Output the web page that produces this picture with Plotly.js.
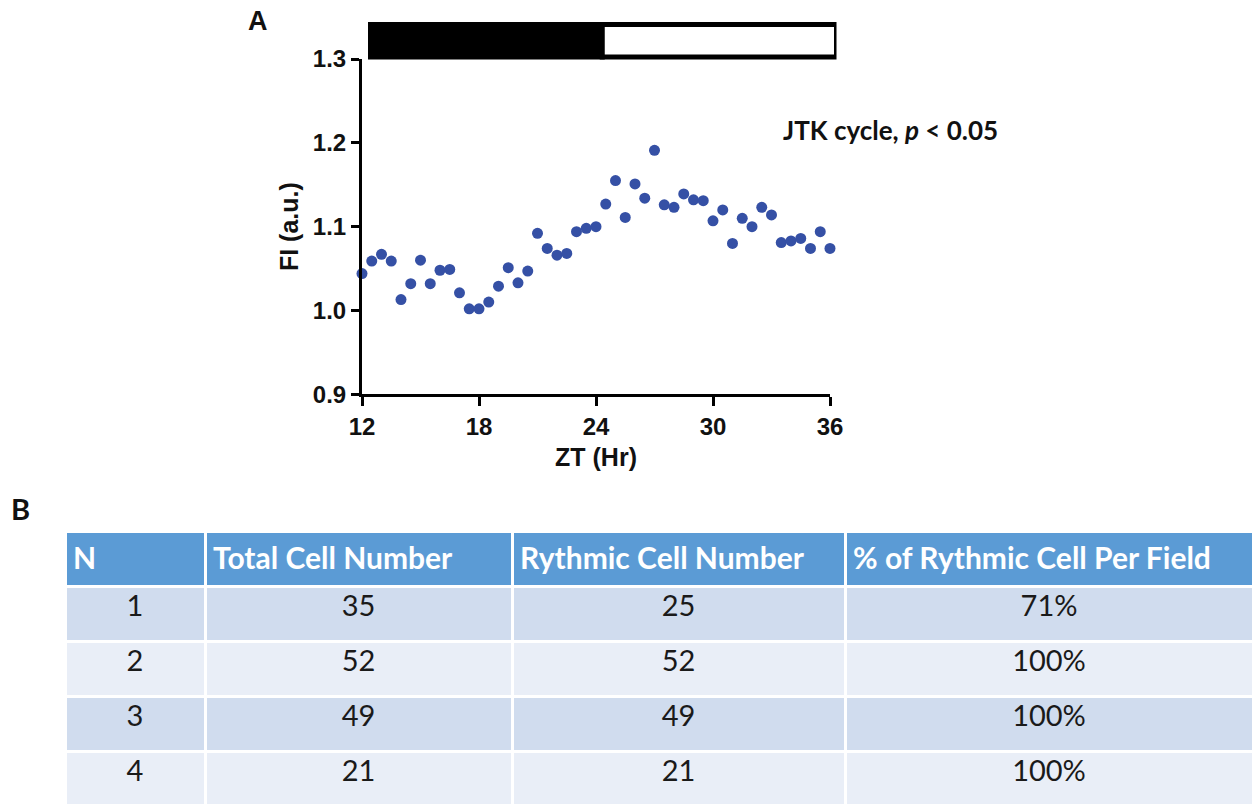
<!DOCTYPE html>
<html><head><meta charset="utf-8">
<script src="https://cdn.plot.ly/plotly-3.0.1.min.js"></script>
<style>html,body{margin:0;padding:0;background:#fff}#chart{width:1253px;height:805px}</style>
</head><body><div id="chart"></div>
<script>
// ---- Panel A data ----
const zt = [12,12.5,13,13.5,14,14.5,15,15.5,16,16.5,17,17.5,18,18.5,19,19.5,20,20.5,21,21.5,22,22.5,23,23.5,24,
            24.5,25,25.5,26,26.5,27,27.5,28,28.5,29,29.5,30,30.5,31,31.5,32,32.5,33,33.5,34,34.5,35,35.5,36];
const fi = [1.044,1.059,1.067,1.059,1.013,1.032,1.060,1.032,1.048,1.049,1.021,1.002,1.002,1.010,1.029,1.051,1.033,1.047,1.092,1.074,1.066,1.068,1.094,1.098,1.100,
            1.127,1.155,1.111,1.151,1.134,1.191,1.126,1.123,1.139,1.132,1.131,1.107,1.120,1.080,1.110,1.100,1.123,1.114,1.081,1.083,1.086,1.074,1.094,1.074];
const xTicks = [12,18,24,30,36];
const phaseStart = [12,24];
const phaseEnd = [24,36];
const phaseFill = ['#000000','#ffffff'];

// ---- Panel B data ----
const tableHeaders = ['N','Total Cell Number','Rythmic Cell Number','% of Rythmic Cell Per Field'];
const colN = ['1','2','3','4'];
const colTotal = ['35','52','49','21'];
const colRhythmic = ['25','52','49','21'];
const colPct = ['71%','100%','100%','100%'];

const W = 1253, H = 805;
const px = v => v / W, py = v => 1 - v / H;

const arial = 'Liberation Sans, Arial, sans-serif';
const cal = 'Lato, Carlito, Calibri, sans-serif';

const rowColors = ['#d0dcee','#e9eef7','#d0dcee','#e9eef7'];

const traces = [
  {type:'scatter', mode:'markers', x: phaseStart, y:[null,null], xaxis:'x2', yaxis:'y', showlegend:false, hoverinfo:'skip'},
  {type:'scatter', mode:'markers', x: zt, y: fi, xaxis:'x', yaxis:'y', cliponaxis:false,
   marker:{size:11, color:'#3550a5'}, hoverinfo:'x+y', showlegend:false},
  {type:'table', domain:{x:[px(65),1], y:[0, py(531)]},
   columnwidth:[140,307,333,408],
   header:{values: tableHeaders.map(h => '<b>'+h+'</b>'), align:'left', height:55,
           fill:{color:'#5b9bd5'}, line:{color:'#ffffff', width:3},
           font:{family:cal, size:30, color:'#ffffff'}},
   cells:{values:[colN,colTotal,colRhythmic,colPct], align:'center', height:55,
          fill:{color:[rowColors,rowColors,rowColors,rowColors]}, line:{color:'#ffffff', width:3},
          font:{family:cal, size:29, color:'#1a1a1a'}}}
];

const shapes = phaseStart.map((s,i) => ({
  type:'rect', xref:'x2', yref:'paper', x0:s, x1:phaseEnd[i], y0:py(57), y1:py(24.5),
  fillcolor:phaseFill[i], line:{color:'#000000', width:5}, layer:'above'
}));

const layout = {
  width:W, height:H, margin:{l:0,r:0,t:0,b:0}, paper_bgcolor:'#ffffff', plot_bgcolor:'rgba(0,0,0,0)',
  showlegend:false,
  xaxis:{domain:[px(362), px(830)], range:[12,36], tickvals:xTicks, anchor:'y',
         showline:true, linewidth:3, linecolor:'#000', ticks:'outside', ticklen:9, tickwidth:3, tickcolor:'#000',
         showgrid:false, zeroline:false, automargin:false,
         tickfont:{family:arial, size:24, color:'#111', weight:'bold'},
         title:{text:'ZT (Hr)', font:{family:arial, size:25, color:'#111', weight:'bold'}, standoff:10}},
  xaxis2:{domain:[px(368), px(836.5)], range:[12,36], visible:false, anchor:'y', automargin:false},
  yaxis:{domain:[py(394.3), py(59)], range:[0.9,1.3], dtick:0.1, tick0:0.9, tickformat:'.1f', anchor:'x',
         showline:true, linewidth:3, linecolor:'#000', ticks:'outside', ticklen:8, tickwidth:3, tickcolor:'#000',
         showgrid:false, zeroline:false, automargin:false,
         tickfont:{family:arial, size:24, color:'#111', weight:'bold'},
         title:{text:'FI (a.u.)', font:{family:arial, size:25, color:'#111', weight:'bold'}, standoff:8}},
  shapes: shapes,
  annotations:[
    {text:'<b>A</b>', xref:'paper', yref:'paper', x:px(258), y:py(21), xanchor:'center', yanchor:'middle', showarrow:false,
     font:{family:arial, size:27, color:'#111'}},
    {text:'<b>B</b>', xref:'paper', yref:'paper', x:px(20), y:py(508), xanchor:'center', yanchor:'middle', showarrow:false,
     font:{family:cal, size:29, color:'#111'}},
    {text:'<b>JTK cycle, <i>p</i> &lt; 0.05</b>', xref:'paper', yref:'paper', x:px(781), y:py(130), xanchor:'left', yanchor:'middle', showarrow:false,
     font:{family:cal, size:26, color:'#111'}}
  ]
};

Plotly.newPlot('chart', traces, layout, {staticPlot:true});
</script>
</body></html>
